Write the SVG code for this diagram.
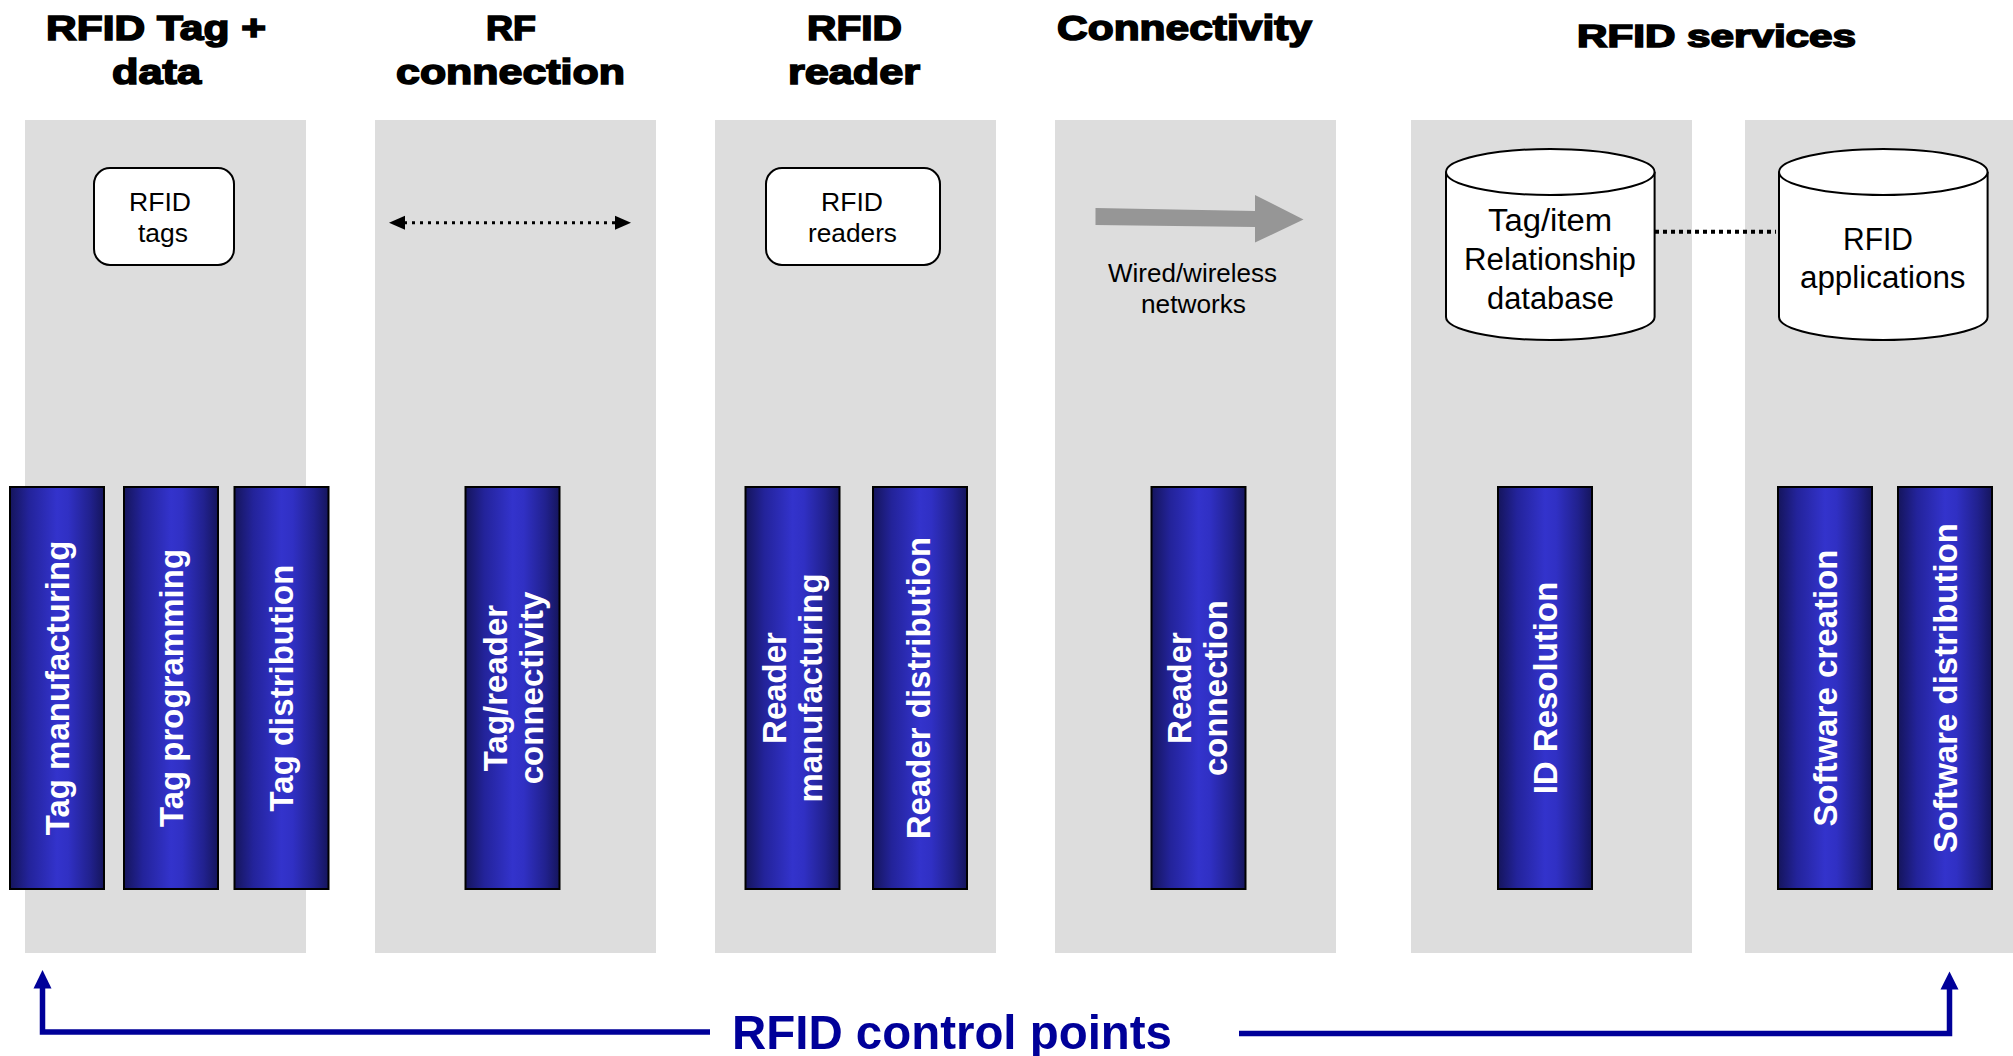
<svg xmlns="http://www.w3.org/2000/svg" width="2013" height="1056" viewBox="0 0 2013 1056">
<defs>
<linearGradient id="barGrad" x1="0" y1="0" x2="1" y2="0">
<stop offset="0" stop-color="#15155c"/>
<stop offset="0.2" stop-color="#23239a"/>
<stop offset="0.5" stop-color="#3333cc"/>
<stop offset="0.62" stop-color="#3030c4"/>
<stop offset="0.85" stop-color="#21218e"/>
<stop offset="1" stop-color="#15155c"/>
</linearGradient>
<style>
.panel{fill:#dddddd}
.title{font-family:"Liberation Sans",Arial,sans-serif;font-weight:bold;font-size:35px;fill:#000;stroke:#000;stroke-width:1.6}
.box{fill:#fff;stroke:#000;stroke-width:2}
.lbl{font-family:"Liberation Sans",Arial,sans-serif;font-size:25.5px;fill:#000}
.cyl{font-family:"Liberation Sans",Arial,sans-serif;font-size:31px;fill:#000}
.bar{fill:url(#barGrad);stroke:#000;stroke-width:2}
.bt{font-family:"Liberation Sans",Arial,sans-serif;font-weight:bold;font-size:33px;fill:#fff;text-anchor:middle}
.ctl{fill:none;stroke:#000099;stroke-width:5.5;stroke-linejoin:miter}
.ctlhead{fill:#000099}
</style>
</defs>

<g id="panels">
<rect class="panel" x="25" y="120" width="281" height="833"/>
<rect class="panel" x="375" y="120" width="281" height="833"/>
<rect class="panel" x="715" y="120" width="281" height="833"/>
<rect class="panel" x="1055" y="120" width="281" height="833"/>
<rect class="panel" x="1411" y="120" width="281" height="833"/>
<rect class="panel" x="1745" y="120" width="268" height="833"/>
</g>

<g id="titles">
<text class="title" x="46" y="40" textLength="220" lengthAdjust="spacingAndGlyphs">RFID Tag +</text>
<text class="title" x="112" y="84" textLength="89" lengthAdjust="spacingAndGlyphs">data</text>
<text class="title" x="486" y="40" textLength="50" lengthAdjust="spacingAndGlyphs">RF</text>
<text class="title" x="396" y="84" textLength="229" lengthAdjust="spacingAndGlyphs">connection</text>
<text class="title" x="807" y="40" textLength="95" lengthAdjust="spacingAndGlyphs">RFID</text>
<text class="title" x="788" y="84" textLength="132" lengthAdjust="spacingAndGlyphs">reader</text>
<text class="title" x="1057" y="40" textLength="255" lengthAdjust="spacingAndGlyphs">Connectivity</text>
<text class="title" x="1577" y="47" style="font-size:31px" textLength="279" lengthAdjust="spacingAndGlyphs">RFID services</text>
</g>

<g id="rfid-tags">
<rect class="box" x="94" y="168" width="140" height="97" rx="16"/>
<text class="lbl" x="129" y="211" textLength="62" lengthAdjust="spacingAndGlyphs">RFID</text>
<text class="lbl" x="138" y="242" textLength="50" lengthAdjust="spacingAndGlyphs">tags</text>
</g>

<g id="rfid-readers">
<rect class="box" x="766" y="168" width="174" height="97" rx="16"/>
<text class="lbl" x="821" y="211" textLength="62" lengthAdjust="spacingAndGlyphs">RFID</text>
<text class="lbl" x="808" y="242" textLength="89" lengthAdjust="spacingAndGlyphs">readers</text>
</g>

<g id="network-label">
<text class="lbl" x="1108" y="282" textLength="169" lengthAdjust="spacingAndGlyphs">Wired/wireless</text>
<text class="lbl" x="1141" y="313" textLength="105" lengthAdjust="spacingAndGlyphs">networks</text>
</g>

<g id="tag-item-db">
<path class="box" d="M1446,172 V317 A104.3,23 0 0 0 1654.6,317 V172"/>
<ellipse class="box" cx="1550.3" cy="172" rx="104.3" ry="23"/>
<text class="cyl" x="1488" y="231" textLength="124" lengthAdjust="spacingAndGlyphs">Tag/item</text>
<text class="cyl" x="1464" y="270" textLength="172" lengthAdjust="spacingAndGlyphs">Relationship</text>
<text class="cyl" x="1487" y="309" textLength="127" lengthAdjust="spacingAndGlyphs">database</text>
</g>

<g id="rfid-applications">
<path class="box" d="M1779,172 V317 A104.3,23 0 0 0 1987.6,317 V172"/>
<ellipse class="box" cx="1883.3" cy="172" rx="104.3" ry="23"/>
<text class="cyl" x="1843" y="250" textLength="70" lengthAdjust="spacingAndGlyphs">RFID</text>
<text class="cyl" x="1800" y="288" textLength="165.5" lengthAdjust="spacingAndGlyphs">applications</text>
</g>

<g id="tag-manufacturing">
<rect class="bar" x="10" y="487" width="94" height="402"/>
<text class="bt" transform="translate(69,688) rotate(-90)">Tag manufacturing</text>
</g>
<g id="tag-programming">
<rect class="bar" x="124" y="487" width="94" height="402"/>
<text class="bt" transform="translate(183,688) rotate(-90)">Tag programming</text>
</g>
<g id="tag-distribution">
<rect class="bar" x="234.5" y="487" width="94" height="402"/>
<text class="bt" transform="translate(293,688) rotate(-90)">Tag distribution</text>
</g>
<g id="tag-reader-connectivity">
<rect class="bar" x="465.5" y="487" width="94" height="402"/>
<text class="bt" transform="translate(506.5,688) rotate(-90)">Tag/reader</text>
<text class="bt" transform="translate(542.5,688) rotate(-90)">connectivity</text>
</g>
<g id="reader-manufacturing">
<rect class="bar" x="745.5" y="487" width="94" height="402"/>
<text class="bt" transform="translate(785.5,688) rotate(-90)">Reader</text>
<text class="bt" transform="translate(821.5,688) rotate(-90)">manufacturing</text>
</g>
<g id="reader-distribution">
<rect class="bar" x="873" y="487" width="94" height="402"/>
<text class="bt" transform="translate(930,688) rotate(-90)">Reader distribution</text>
</g>
<g id="reader-connection">
<rect class="bar" x="1151.5" y="487" width="94" height="402"/>
<text class="bt" transform="translate(1191,688) rotate(-90)">Reader</text>
<text class="bt" transform="translate(1226.5,688) rotate(-90)">connection</text>
</g>
<g id="id-resolution">
<rect class="bar" x="1498" y="487" width="94" height="402"/>
<text class="bt" transform="translate(1556.5,688) rotate(-90)">ID Resolution</text>
</g>
<g id="software-creation">
<rect class="bar" x="1778" y="487" width="94" height="402"/>
<text class="bt" transform="translate(1836.5,688) rotate(-90)">Software creation</text>
</g>
<g id="software-distribution">
<rect class="bar" x="1898" y="487" width="94" height="402"/>
<text class="bt" transform="translate(1956.5,688) rotate(-90)">Software distribution</text>
</g>

<g id="connectors">
<line x1="404" y1="222.7" x2="616" y2="222.7" stroke="#000" stroke-width="3" stroke-dasharray="3 5"/>
<polygon points="389,222.7 405,215.7 405,229.7" fill="#000"/>
<polygon points="631,222.7 615,215.7 615,229.7" fill="#000"/>
<polygon points="1095.5,208 1255,211 1255,195 1303.5,219.5 1255,242.5 1255,227 1095.5,225" fill="#969696"/>
<line x1="1655" y1="231.7" x2="1776" y2="231.7" stroke="#000" stroke-width="4" stroke-dasharray="4 4"/>
<path class="ctl" d="M42.5,988 V1032 H710"/>
<polygon class="ctlhead" points="42.5,970 33.5,988.5 51.5,988.5"/>
<path class="ctl" d="M1239,1033.5 H1949.5 V989"/>
<polygon class="ctlhead" points="1949.5,971.5 1940.5,989.5 1958.5,989.5"/>
</g>

<g id="control-points-label">
<text x="732" y="1049" style="font-family:'Liberation Sans',Arial,sans-serif;font-weight:bold;font-size:49px;fill:#000099" textLength="440" lengthAdjust="spacingAndGlyphs">RFID control points</text>
</g>
</svg>
